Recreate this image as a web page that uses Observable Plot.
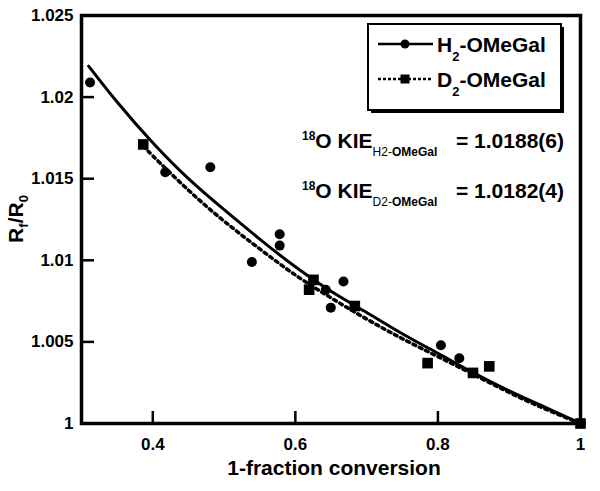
<!DOCTYPE html>
<html><head><meta charset="utf-8">
<script src="https://cdn.jsdelivr.net/npm/d3@7"></script>
<script src="https://cdn.jsdelivr.net/npm/@observablehq/plot@0.6"></script>
<style>body{margin:0;background:#fff} svg{font-family:"Liberation Sans",Arial,sans-serif}</style>
</head><body><div id="chart"></div>
<script>
// H2-OMeGal data points (1-fraction conversion, Rf/R0)
const h2X = [0.312, 0.4175, 0.4807, 0.539, 0.578, 0.578, 0.6427, 0.6497, 0.6675, 0.8042, 0.830, 1.0];
const h2Y = [1.0209, 1.0154, 1.0157, 1.0099, 1.0116, 1.0109, 1.0082, 1.0071, 1.0087, 1.0048, 1.0040, 1.0000];
// D2-OMeGal data points
const d2X = [0.3866, 0.6193, 0.6254, 0.6834, 0.7855, 0.8492, 0.872, 1.0];
const d2Y = [1.0171, 1.0082, 1.0088, 1.0072, 1.0037, 1.0031, 1.0035, 1.0000];
// fitted curves
const h2CurveX = [0.31, 0.35, 0.40, 0.45, 0.50, 0.55, 0.60, 0.65, 0.70, 0.75, 0.80, 0.85, 0.90, 0.95, 1.00];
const h2CurveY = [1.0219, 1.0197, 1.0172, 1.0150, 1.0131, 1.0113, 1.0096, 1.0081, 1.0068, 1.0055, 1.0043, 1.0031, 1.0020, 1.0010, 1.0000];
const d2CurveX = [0.387, 0.40, 0.45, 0.50, 0.55, 0.60, 0.65, 0.70, 0.75, 0.80, 0.85, 0.90, 0.95, 1.00];
const d2CurveY = [1.0170, 1.0164, 1.0143, 1.0124, 1.0107, 1.0091, 1.0077, 1.0064, 1.0052, 1.0041, 1.0030, 1.0019, 1.0009, 1.0000];
// ticks
const xTicks = [0.4, 0.6, 0.8, 1];
const xTickLabels = ["0.4", "0.6", "0.8", "1"];
const yTicks = [1, 1.005, 1.01, 1.015, 1.02, 1.025];
const yTickLabels = ["1", "1.005", "1.01", "1.015", "1.02", "1.025"];
// text
const xTitle = "1-fraction conversion";
const series = [
  {name: "H", sub: "2", rest: "-OMeGal", kieSub1: "H2-", kieSub2: "OMeGal", kie: "= 1.0188(6)"},
  {name: "D", sub: "2", rest: "-OMeGal", kieSub1: "D2-", kieSub2: "OMeGal", kie: "= 1.0182(4)"}
];

const W = 600, H = 491, mL = 81, mR = 20, mT = 15, mB = 68;
const iw = W - mL - mR, ih = H - mT - mB;
const FONT = '"Liberation Sans", Arial, sans-serif';

const pts = (xs, ys) => xs.map((x, i) => ({x, y: ys[i]}));

const chart = Plot.plot({
  width: W, height: H,
  marginLeft: mL, marginRight: mR, marginTop: mT, marginBottom: mB,
  x: {domain: [0.3, 1]},
  y: {domain: [1, 1.025]},
  style: {fontFamily: FONT, color: "#000", background: "#fff", overflow: "visible"},
  marks: [
    Plot.tickX(xTicks, {x: d => d, stroke: "#000", strokeWidth: 2.5, insetTop: ih - 12}),
    Plot.tickY(yTicks, {y: d => d, stroke: "#000", strokeWidth: 2.5, insetRight: iw - 13}),
    Plot.axisX(xTicks, {tickSize: 0, tickPadding: 14, tickFormat: d => xTickLabels[xTicks.indexOf(d)], fontSize: 17, fontWeight: "bold", label: null}),
    Plot.axisY(yTicks, {tickSize: 0, tickPadding: 8, tickFormat: d => yTickLabels[yTicks.indexOf(d)], fontSize: 17, fontWeight: "bold", label: null}),
    Plot.line(pts(d2CurveX, d2CurveY), {x: "x", y: "y", curve: "natural", stroke: "#000", strokeWidth: 3.5, strokeDasharray: "3,4"}),
    Plot.line(pts(h2CurveX, h2CurveY), {x: "x", y: "y", curve: "natural", stroke: "#000", strokeWidth: 3}),
    Plot.dot(pts(h2X, h2Y), {x: "x", y: "y", r: 5, fill: "#000", symbol: "circle"}),
    Plot.dot(pts(d2X, d2Y), {x: "x", y: "y", r: 6, fill: "#000", symbol: "square"}),
    Plot.frame({stroke: "#000", strokeWidth: 3.5})
  ]
});
document.getElementById("chart").appendChild(chart);

const svg = d3.select(chart);
// x title
svg.append("text").attr("x", 334).attr("y", 475).attr("text-anchor", "middle")
  .attr("font-family", FONT).attr("font-size", 21).attr("font-weight", "bold").text(xTitle);
// y title R_f/R_0
const yt = svg.append("text").attr("transform", "translate(23,219) rotate(-90)").attr("text-anchor", "middle")
  .attr("font-family", FONT).attr("font-size", 21).attr("font-weight", "bold");
yt.append("tspan").text("R");
yt.append("tspan").attr("font-size", 13).attr("dy", 5).text("f");
yt.append("tspan").attr("dy", -5).text("/R");
yt.append("tspan").attr("font-size", 13).attr("dy", 5).text("0");

// legend
const lg = svg.append("g").attr("text-anchor", "start");
lg.append("rect").attr("x", 371).attr("y", 27).attr("width", 193).attr("height", 86).attr("fill", "#000");
lg.append("rect").attr("x", 368).attr("y", 24).attr("width", 193).attr("height", 86).attr("fill", "#fff").attr("stroke", "#000").attr("stroke-width", 2);
const rowsY = [44, 79];
series.forEach((s, i) => {
  const y = rowsY[i];
  lg.append("line").attr("x1", 378).attr("x2", 433).attr("y1", y).attr("y2", y)
    .attr("stroke", "#000").attr("stroke-width", 2.5).attr("stroke-dasharray", i ? "3,2" : null);
  if (i === 0) lg.append("circle").attr("cx", 405).attr("cy", y).attr("r", 4.5).attr("fill", "#000");
  else lg.append("rect").attr("x", 400.5).attr("y", y - 4.5).attr("width", 9).attr("height", 9).attr("fill", "#000");
  const t = lg.append("text").attr("x", 437).attr("y", y + 8).attr("text-anchor", "start")
    .attr("font-family", FONT).attr("font-size", 21).attr("font-weight", "bold");
  t.append("tspan").text(s.name);
  t.append("tspan").attr("font-size", 13).attr("dy", 9).text(s.sub);
  t.append("tspan").attr("dy", -9).text(s.rest);
});

// KIE annotations
const annY = [148, 198];
series.forEach((s, i) => {
  const t = svg.append("text").attr("x", 302).attr("y", annY[i]).attr("text-anchor", "start")
    .attr("font-family", FONT).attr("font-size", 21).attr("font-weight", "bold");
  t.append("tspan").attr("font-size", 12).attr("dy", -8).text("18");
  t.append("tspan").attr("dy", 8).text("O KIE");
  t.append("tspan").attr("font-size", 12).attr("font-weight", "normal").attr("dy", 8).text(s.kieSub1);
  t.append("tspan").attr("font-size", 12).text(s.kieSub2);
  t.append("tspan").attr("x", 456).attr("dy", -8).text(s.kie);
});
</script>
</body></html>
